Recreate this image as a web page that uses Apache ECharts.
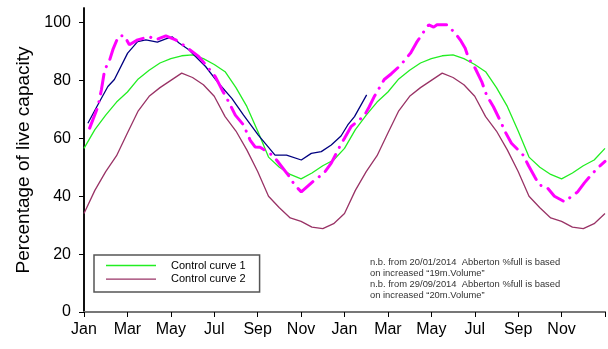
<!DOCTYPE html>
<html>
<head>
<meta charset="utf-8">
<script src="https://cdn.jsdelivr.net/npm/echarts@6/dist/echarts.min.js"></script>
<style>
  html, body { margin: 0; padding: 0; background: #fff; }
  #chart { width: 608px; height: 349px; }
</style>
</head>
<body>
<div id="chart"></div>
<script>
// x values are months counted from Jan 1st of the first year
const monthLabels = ['Jan', 'Mar', 'May', 'Jul', 'Sep', 'Nov', 'Jan', 'Mar', 'May', 'Jul', 'Sep', 'Nov']
const yTicks = [0, 20, 40, 60, 80, 100]

// control curves, one year at half month steps
const curveMonths = [0, 0.5, 1, 1.5, 2, 2.5, 3, 3.5, 4, 4.5, 5, 5.5, 6, 6.5, 7, 7.5, 8, 8.5, 9, 9.5, 10, 10.5, 11, 11.5]
const curve1 = [56.5, 63, 68, 72.5, 76, 80.5, 83.5, 86, 87.5, 88.5, 88.8, 87.5, 85.5, 83, 77.5, 71, 62.5, 53.5, 50, 47.5, 46, 48, 50.5, 52.5]
const curve2 = [34, 42, 48.5, 54, 61.8, 69.5, 74.5, 77.5, 80, 82.5, 81, 78.5, 74.5, 67.5, 62.5, 56, 48.5, 40, 36, 32.5, 31.3, 29.3, 28.8, 30.5]

// actual storage (navy)
const actualMonths = [0.18, 0.72, 1.1, 1.4, 2.01, 2.47, 2.85, 3.38, 3.77, 4.07, 4.38, 4.83, 5.6, 6.2, 6.81, 7.35, 8.03, 8.8, 9.33, 10.01, 10.47, 10.93, 11.39, 11.84, 12.15, 12.46, 13.02]
const actualLevel = [65.2, 72.7, 77.9, 80.3, 89.4, 93.4, 94, 93.2, 94.3, 95, 92.9, 90.6, 84.8, 79, 73.8, 68, 61.1, 54.2, 54.2, 52.5, 54.8, 55.4, 57.7, 60.8, 64.6, 67.5, 75]

// magenta dash-dot line
const forecastMonths = [0.26, 0.64, 0.8, 0.95, 1.18, 1.33, 1.55, 1.63, 1.86, 2.09, 2.47, 3.0, 3.31, 3.77, 4.22, 4.68, 5.29, 5.67, 6.05, 6.36, 6.58, 6.97, 7.35, 7.65, 7.88, 8.11, 8.57, 8.87, 9.41, 9.71, 10.01, 10.63, 11.05, 11.39, 11.77, 12.0, 12.3, 12.91, 13.14, 13.37, 13.83, 14.16, 14.59, 15.04, 15.32, 15.66, 15.88, 16.11, 16.26, 16.72, 17.1, 17.33, 17.56, 17.71, 18.02, 18.32, 18.55, 18.86, 19.16, 19.42, 19.69, 20.23, 20.48, 20.76, 20.99, 21.3, 21.67, 22.13, 22.44, 22.74, 23.05, 23.43, 23.73, 24]
const forecastLevel = [63.5, 70.9, 76.7, 83.6, 87, 90.6, 94.6, 95.4, 95.4, 92.3, 94, 95.1, 94, 95.4, 94, 91.7, 88.2, 84.8, 81.3, 76.7, 73.8, 68, 64.6, 59.4, 57, 56.9, 54.8, 52.5, 47.3, 43.8, 41.5, 45.6, 47.9, 51.4, 57, 60, 64, 67.8, 70.9, 74.4, 80.3, 82.3, 85.3, 89.4, 93.1, 96.9, 99.2, 98.4, 99.2, 99.2, 96.3, 94, 91.1, 87.7, 84.2, 79.6, 74.8, 70.9, 66.3, 62, 58.3, 54.2, 50.5, 46.7, 43.8, 43.3, 40, 38.1, 39.8, 41.5, 44.6, 47.9, 50.2, 52]

const note = 'n.b. from 20/01/2014  Abberton %full is based\non increased \u201c19m.Volume\u201d\nn.b. from 29/09/2014  Abberton %full is based\non increased \u201c20m.Volume\u201d'

// control curves repeat every year
function twoYears(values) {
  const out = []
  for (let y = 0; y < 2; y++) {
    curveMonths.forEach((m, i) => out.push([m + y * 12, values[i]]))
  }
  out.push([24, values[0]])
  return out
}

const font = '"Liberation Sans", Arial, sans-serif'
const chart = echarts.init(document.getElementById('chart'))

chart.setOption({
  animation: false,
  grid: { left: 84, right: 1, top: 8, bottom: 37 },
  legend: {
    data: ['Control curve 1', 'Control curve 2'],
    orient: 'vertical',
    left: 94,
    top: 255,
    padding: [5, 14, 7.5, 12],
    icon: 'path://M0,0L50,0L50,1.4L0,1.4Z',
    itemWidth: 50,
    itemHeight: 13,
    itemGap: 2.6,
    borderColor: '#555',
    borderWidth: 1.5,
    textStyle: { fontFamily: font, fontSize: 11, color: '#000', padding: [0, 0, 0, 10] }
  },
  graphic: [
    {
      type: 'text',
      left: 370,
      top: 256.5,
      style: { text: note, font: '9.4px ' + font, fill: '#333', lineHeight: 11 }
    }
  ],
  xAxis: [
    {
      type: 'value',
      min: 0,
      max: 24,
      interval: 2,
      axisLine: { lineStyle: { color: '#000', width: 1.5 } },
      axisTick: { length: 5, lineStyle: { color: '#000' } },
      axisLabel: {
        margin: 10,
        fontFamily: font,
        fontSize: 16,
        color: '#000',
        formatter: v => monthLabels[v / 2] || ''
      },
      splitLine: { show: false }
    },
    {
      type: 'value',
      position: 'top',
      min: 0,
      max: 24,
      axisLine: { show: true, lineStyle: { color: '#777', width: 2 } },
      axisTick: { show: false },
      axisLabel: { show: false },
      splitLine: { show: false }
    }
  ],
  yAxis: [
    {
      type: 'value',
      min: 0,
      max: 105,
      interval: 20,
      name: 'Percentage of live capacity',
      nameLocation: 'middle',
      nameGap: 49,
      nameTextStyle: { fontFamily: font, fontSize: 19, color: '#000' },
      axisLine: { show: true, lineStyle: { color: '#000', width: 1.5 } },
      axisTick: { show: true, length: 5, customValues: yTicks, lineStyle: { color: '#000' } },
      axisLabel: { margin: 13, fontFamily: font, fontSize: 16, color: '#000', customValues: yTicks },
      splitLine: { show: false }
    },
    {
      type: 'value',
      position: 'right',
      min: 0,
      max: 105,
      axisLine: { show: true, lineStyle: { color: '#000', width: 1.5 } },
      axisTick: { show: false },
      axisLabel: { show: false },
      splitLine: { show: false }
    }
  ],
  series: [
    {
      name: 'Control curve 2',
      type: 'line',
      data: twoYears(curve2),
      symbol: 'none',
      lineStyle: { color: '#993366', width: 1.3 },
      itemStyle: { color: '#993366' }
    },
    {
      name: 'Control curve 1',
      type: 'line',
      data: twoYears(curve1),
      symbol: 'none',
      lineStyle: { color: '#22ee22', width: 1.3 },
      itemStyle: { color: '#22ee22' }
    },
    {
      name: 'Actual',
      type: 'line',
      data: actualMonths.map((m, i) => [m, actualLevel[i]]),
      symbol: 'none',
      lineStyle: { color: '#000080', width: 1.3 }
    },
    {
      name: 'Projection',
      type: 'line',
      data: forecastMonths.map((m, i) => [m, forecastLevel[i]]),
      symbol: 'none',
      lineStyle: { color: '#ff00ff', width: 3, type: [20, 8, 0.1, 8], cap: 'round' }
    }
  ]
})
</script>
</body>
</html>
